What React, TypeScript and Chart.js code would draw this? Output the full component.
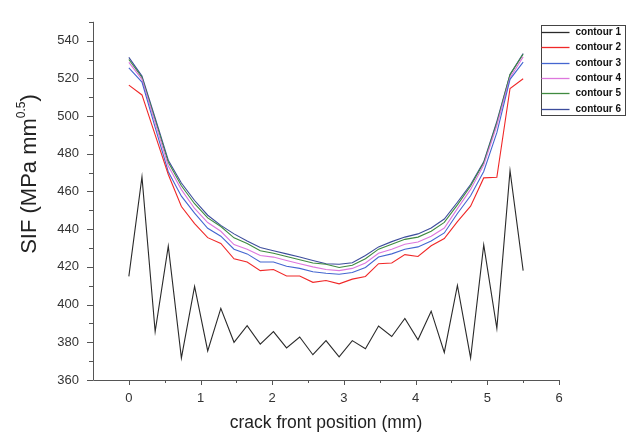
import React, { useEffect, useRef } from "react";
import { Chart, registerables } from "chart.js";

Chart.register(...registerables);

// crack front positions (mm)
const positions = [
  0, 0.183, 0.367, 0.55, 0.733, 0.917, 1.1, 1.283, 1.467, 1.65, 1.833, 2.017, 2.2, 2.383, 2.567, 2.75,
  2.933, 3.117, 3.3, 3.483, 3.667, 3.85, 4.033, 4.217, 4.4, 4.583, 4.767, 4.95, 5.133, 5.317, 5.5,
];

const contour1 = [
  415, 467.7, 385.7, 431, 371.7, 409.7, 375.4, 398, 380, 388.8, 379, 385.7, 377, 382.8, 373.4, 380.9,
  372.3, 380.9, 376.6, 388.6, 383.1, 392.6, 381.3, 396.5, 374.6, 410.2, 371.7, 431.7, 387.4, 471, 418,
];
const contour2 = [
  516.4, 511.2, 490, 469, 452, 443, 435.5, 432.4, 424.3, 422.6, 418, 418.6, 415.2, 415.2, 411.8, 412.8,
  411, 413.5, 414.9, 421.7, 422.1, 426.5, 425.5, 431.2, 435, 444, 452.2, 467.2, 467.5, 514.6, 519.8,
];
const contour3 = [
  525.5, 518, 494, 470.5, 457.5, 448.5, 440.5, 436.3, 429.4, 426.9, 422.6, 422.6, 420.3, 419.2, 417.4, 416.6,
  416.1, 417, 419.7, 425.2, 426.9, 429.4, 430.6, 433.7, 438, 448.3, 457.7, 470.6, 491.2, 519.5, 528.6,
];
const contour4 = [
  528.5, 519.5, 496.5, 473.5, 461, 451, 443.5, 438.9, 431.8, 429.4, 426, 425.2, 423.4, 421.7, 420, 418.6,
  418, 419.2, 422.1, 427.2, 429.4, 432, 433.2, 436.3, 440.6, 450.9, 461.1, 474, 495, 520.3, 531.4,
];
const contour5 = [
  530, 520.5, 498, 475.5, 463, 453.5, 446, 441.4, 435.4, 432.4, 428.6, 427.2, 425.5, 423.8, 422.1, 421.4,
  419.7, 420.9, 424.3, 429.4, 432, 434.6, 435.8, 438.9, 443.6, 452.9, 462.9, 475.2, 496.3, 522, 532.8,
];
const contour6 = [
  531.1, 521.2, 499, 476.6, 464.5, 455.2, 447.4, 442, 437.5, 433.7, 430.3, 428.6, 426.9, 425.2, 423.4, 421.7,
  421.4, 422.2, 426, 430.6, 433.4, 435.8, 437.5, 440.6, 445.4, 454.3, 463.7, 475.7, 497.2, 522, 533.2,
];

const seriesLabels = ["contour 1", "contour 2", "contour 3", "contour 4", "contour 5", "contour 6"];
const seriesColors = ["#2a2a2a", "#f02828", "#4466d0", "#dd77dd", "#3f8a3f", "#3c4c9c"];

const xTickLabels = [0, 1, 2, 3, 4, 5, 6];
const xMinorTicks = [0.5, 1.5, 2.5, 3.5, 4.5, 5.5];
const yTickLabels = [360, 380, 400, 420, 440, 460, 480, 500, 520, 540];
const yMinorTicks = [370, 390, 410, 430, 450, 470, 490, 510, 530, 550];

const xTitle = "crack front position (mm)";
const yTitleMain = "SIF (MPa mm";
const yTitleSup = "0.5";
const yTitleEnd = ")";

const FONT = "'Liberation Sans', Arial, sans-serif";

const decorPlugin = {
  id: "decor",
  afterDraw(chart: any) {
    const ctx = chart.ctx as CanvasRenderingContext2D;
    const { left, right, top, bottom } = chart.chartArea;
    const xs = chart.scales.x;
    const ys = chart.scales.y;
    ctx.save();
    // axes
    ctx.strokeStyle = "#555";
    ctx.lineWidth = 1;
    ctx.beginPath();
    ctx.moveTo(left + 0.5, top);
    ctx.lineTo(left + 0.5, bottom + 0.5);
    ctx.lineTo(right, bottom + 0.5);
    ctx.stroke();
    // ticks
    ctx.beginPath();
    xTickLabels.forEach((v) => {
      const p = Math.round(xs.getPixelForValue(v)) + 0.5;
      ctx.moveTo(p, bottom);
      ctx.lineTo(p, bottom + 5);
    });
    xMinorTicks.forEach((v) => {
      const p = Math.round(xs.getPixelForValue(v)) + 0.5;
      ctx.moveTo(p, bottom);
      ctx.lineTo(p, bottom + 3);
    });
    yTickLabels.forEach((v) => {
      const p = Math.round(ys.getPixelForValue(v)) + 0.5;
      ctx.moveTo(left, p);
      ctx.lineTo(left - 6, p);
    });
    yMinorTicks.forEach((v) => {
      const p = Math.round(ys.getPixelForValue(v)) + 0.5;
      ctx.moveTo(left, p);
      ctx.lineTo(left - 4, p);
    });
    ctx.stroke();

    // x title
    ctx.fillStyle = "#222";
    ctx.font = `17.5px ${FONT}`;
    ctx.textAlign = "center";
    ctx.textBaseline = "alphabetic";
    ctx.fillText(xTitle, (left + right) / 2, 428);

    // y title with superscript
    ctx.save();
    ctx.translate(36, 174);
    ctx.rotate(-Math.PI / 2);
    const mainFont = `22px ${FONT}`;
    const supFont = `12px ${FONT}`;
    ctx.font = mainFont;
    const w1 = ctx.measureText(yTitleMain).width;
    const w3 = ctx.measureText(yTitleEnd).width;
    ctx.font = supFont;
    const w2 = ctx.measureText(yTitleSup).width;
    let x0 = -(w1 + w2 + w3) / 2;
    ctx.textAlign = "left";
    ctx.font = mainFont;
    ctx.fillText(yTitleMain, x0, 0);
    x0 += w1;
    ctx.font = supFont;
    ctx.fillText(yTitleSup, x0, -11);
    x0 += w2;
    ctx.font = mainFont;
    ctx.fillText(yTitleEnd, x0, 0);
    ctx.restore();

    // legend
    const bx = 541.5, by = 25.5, bw = 84, bh = 90;
    ctx.fillStyle = "#fff";
    ctx.fillRect(bx, by, bw, bh);
    ctx.strokeStyle = "#444";
    ctx.lineWidth = 1;
    ctx.strokeRect(bx, by, bw, bh);
    ctx.font = `bold 10px ${FONT}`;
    ctx.textAlign = "left";
    ctx.textBaseline = "middle";
    chart.data.datasets.forEach((ds: any, k: number) => {
      const yy = Math.round(32 + k * 15.3) + 0.5;
      ctx.strokeStyle = ds.borderColor;
      ctx.lineWidth = 1.3;
      ctx.beginPath();
      ctx.moveTo(bx, yy);
      ctx.lineTo(bx + 28, yy);
      ctx.stroke();
      ctx.fillStyle = "#111";
      ctx.fillText(ds.label, bx + 34, yy);
    });
    ctx.restore();
  },
};

export default function App() {
  const ref = useRef<HTMLCanvasElement>(null);
  useEffect(() => {
    const all = [contour1, contour2, contour3, contour4, contour5, contour6];
    const chart = new Chart(ref.current as HTMLCanvasElement, {
      type: "line",
      data: {
        datasets: all.map((vals, k) => ({
          label: seriesLabels[k],
          data: vals.map((y, i) => ({ x: positions[i], y })),
          borderColor: seriesColors[k],
          backgroundColor: seriesColors[k],
          borderWidth: 1.1,
          pointRadius: 0,
          tension: 0,
          fill: false,
        })),
      },
      options: {
        responsive: false,
        animation: false,
        events: [],
        layout: { padding: { left: 0, top: 10, right: 75, bottom: 0 } },
        plugins: { legend: { display: false }, tooltip: { enabled: false } },
        scales: {
          x: {
            type: "linear",
            min: -0.5,
            max: 6,
            afterBuildTicks: (scale: any) => {
              scale.ticks = xTickLabels.map((v) => ({ value: v }));
            },
            afterFit: (scale: any) => {
              scale.height = 55;
            },
            grid: { display: false, drawTicks: false },
            border: { display: false },
            ticks: {
              padding: 11,
              color: "#333",
              font: { family: FONT, size: 13 },
              maxRotation: 0,
              callback: (v: any) => String(v),
            },
          },
          y: {
            type: "linear",
            min: 360,
            max: 550,
            afterBuildTicks: (scale: any) => {
              scale.ticks = yTickLabels.map((v) => ({ value: v }));
            },
            afterFit: (scale: any) => {
              scale.width = 93;
            },
            grid: { display: false, drawTicks: false },
            border: { display: false },
            ticks: {
              padding: 14,
              color: "#333",
              font: { family: FONT, size: 13 },
              callback: (v: any) => String(v),
            },
          },
        },
      },
      plugins: [decorPlugin],
    });
    return () => chart.destroy();
  }, []);
  return (
    <div style={{ position: "fixed", left: 0, top: 0, width: 634, height: 435, background: "#fff" }}>
      <canvas ref={ref} width={634} height={435} style={{ display: "block", width: 634, height: 435 }} />
    </div>
  );
}
